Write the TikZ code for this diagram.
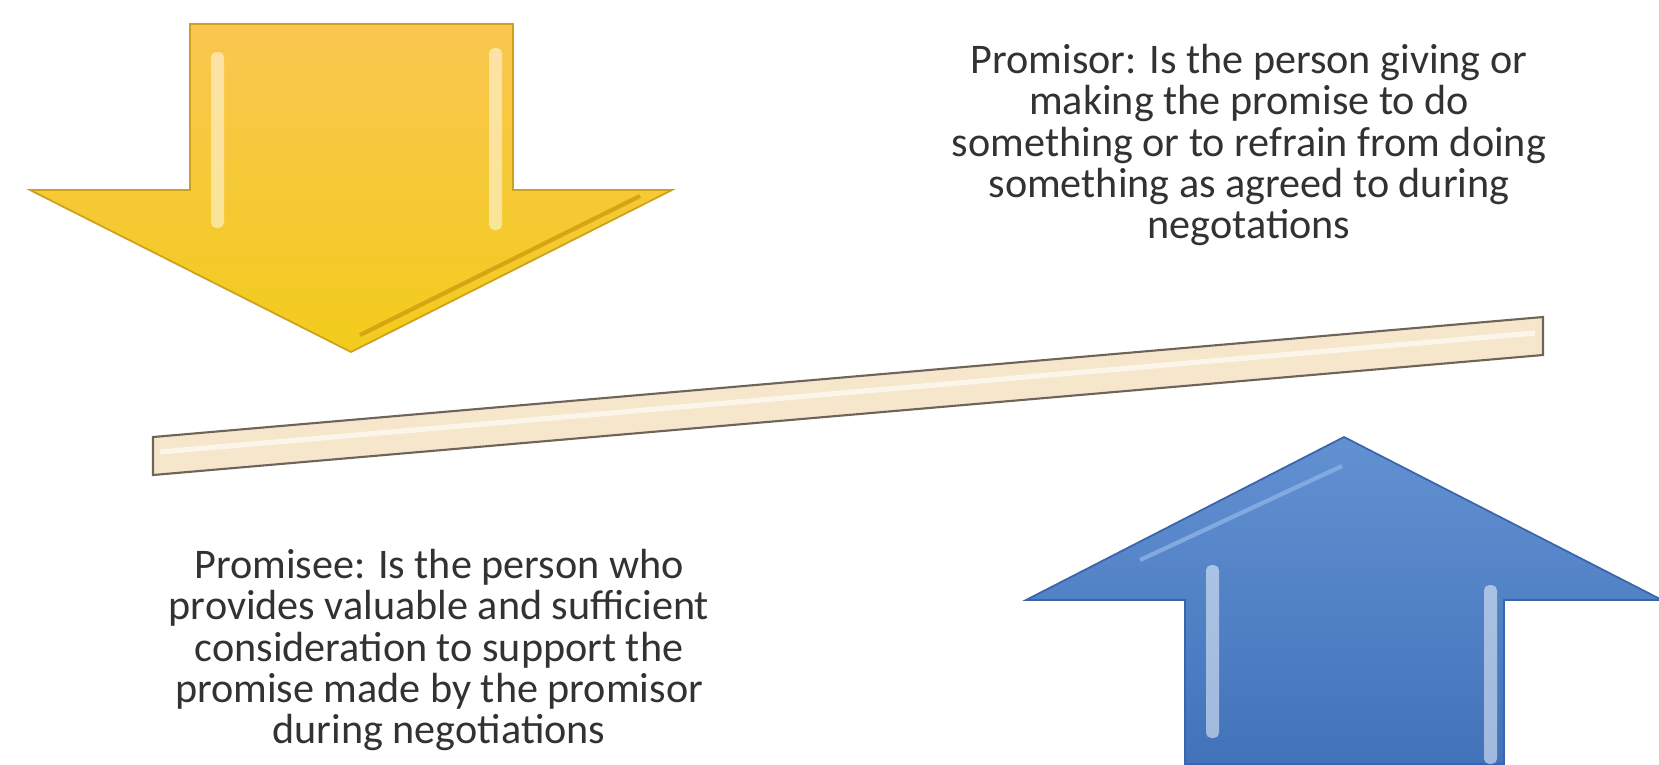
\documentclass[tikz,border=0pt]{standalone}
\usepackage{fontspec}
\setmainfont{Carlito}

\begin{document}
\begin{tikzpicture}[x=0.1mm,y=-0.1mm,
  txt/.style={align=center,inner sep=0pt,font=\fontsize{12}{11.7}\selectfont,text={rgb,255:red,50;green,50;blue,50}},
  glint/.style={fill=white,opacity=0.5,rounded corners=1.5pt}]%
\useasboundingbox (0,0) rectangle (1659,764);%
% yellow arrow, pointing down
\shade[top color={rgb,255:red,250;green,198;blue,80},bottom color={rgb,255:red,242;green,204;blue,28},draw={rgb,255:red,205;green,160;blue,30},line width=0.5pt] (190,24) -- (513,24) -- (513,190) -- (672,190) -- (351,352) -- (30,190) -- (190,190) -- cycle;%
\fill[glint] (211,52) rectangle (224,228);%
\fill[glint] (489,48) rectangle (502,230);%
\draw[draw={rgb,255:red,215;green,165;blue,20},line width=1.2pt] (360,335) -- (640,196);%
% bar
\fill[fill={rgb,255:red,246;green,230;blue,204},draw={rgb,255:red,110;green,100;blue,90},line width=0.6pt] (153,437) -- (1543,317) -- (1543,355) -- (153,475) -- cycle;%
\draw[white,opacity=0.6,line width=1.5pt] (160,452) -- (1535,333);%
% blue arrow, pointing up
\shade[top color={rgb,255:red,98;green,145;blue,210},bottom color={rgb,255:red,66;green,115;blue,186},draw={rgb,255:red,60;green,100;blue,170},line width=0.5pt] (1344,437) -- (1662,600) -- (1504,600) -- (1504,764) -- (1185,764) -- (1185,600) -- (1026,600) -- cycle;%
\fill[glint] (1206,565) rectangle (1219,738);%
\fill[glint] (1484,585) rectangle (1497,764);%
\draw[draw={rgb,255:red,130;green,170;blue,225},line width=1.2pt] (1140,560) -- (1342,466);%
% labels
\node[txt] (promisor) at (1249,145) {Promisor: Is the person giving or\\making the promise to do\\something or to refrain from doing\\something as agreed to during\\negotations};%
\node[txt] (promisee) at (439,650) {Promisee: Is the person who\\provides valuable and sufficient\\consideration to support the\\promise made by the promisor\\during negotiations};%
\end{tikzpicture}
\end{document}
